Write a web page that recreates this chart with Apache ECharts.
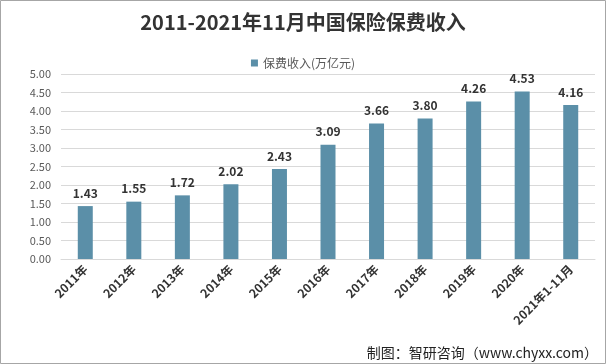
<!DOCTYPE html>
<html><head><meta charset="utf-8">
<script src="https://cdn.jsdelivr.net/npm/echarts@6/dist/echarts.min.js"></script>
<style>html,body{margin:0;padding:0;background:#fff}#c{width:606px;height:364px}</style>
</head><body><div id="c"></div>
<script>
var categories = ['2011年','2012年','2013年','2014年','2015年','2016年','2017年','2018年','2019年','2020年','2021年1-11月'];
var values = [1.43,1.55,1.72,2.02,2.43,3.09,3.66,3.80,4.26,4.53,4.16];
var seriesName = '保费收入(万亿元)';
var yTicks = {min:0,max:5,interval:0.5};
var chart = echarts.init(document.getElementById('c'), null, {renderer:'canvas'});
var font = '"Microsoft YaHei","Noto Sans CJK SC",sans-serif';
chart.setOption({
  animation:false,
  backgroundColor:'#fff',
  title:{text:'2011-2021年11月中国保险保费收入',left:'center',top:7,
    textStyle:{fontSize:20,fontWeight:'bold',color:'#333',fontFamily:font}},
  legend:{top:52,left:'center',itemWidth:7,itemHeight:7,icon:'rect',
    textStyle:{fontSize:12,color:'#595959',fontFamily:font},data:[seriesName]},
  grid:{left:61,right:11,top:74,bottom:105,containLabel:false},
  graphic:[
    {type:'rect',shape:{x:0.5,y:0.5,width:605,height:363},style:{fill:'none',stroke:'#a6a6a6',lineWidth:1}},
    {type:'text',right:8,bottom:4,style:{text:'制图：智研咨询（www.chyxx.com）',fontSize:14,fill:'#222',fontFamily:font}}
  ],
  xAxis:{type:'category',data:categories,
    axisLine:{lineStyle:{color:'#d9d9d9'}},axisTick:{show:false},
    axisLabel:{rotate:45,interval:0,fontSize:12,fontWeight:'bold',color:'#333',fontFamily:font,margin:8}},
  yAxis:{type:'value',min:yTicks.min,max:yTicks.max,interval:yTicks.interval,
    axisLine:{show:false},axisTick:{show:false},
    axisLabel:{formatter:function(v){return v.toFixed(2);},fontSize:11,color:'#595959',fontFamily:font,margin:10},
    splitLine:{lineStyle:{color:'#d9d9d9'}}},
  series:[{name:seriesName,type:'bar',data:values,barWidth:15,
    itemStyle:{color:'#5b8fa8'},
    label:{show:true,position:'top',distance:7,formatter:function(p){return p.value.toFixed(2);},
      fontSize:12,fontWeight:'bold',color:'#333',fontFamily:font}}]
});
</script></body></html>
